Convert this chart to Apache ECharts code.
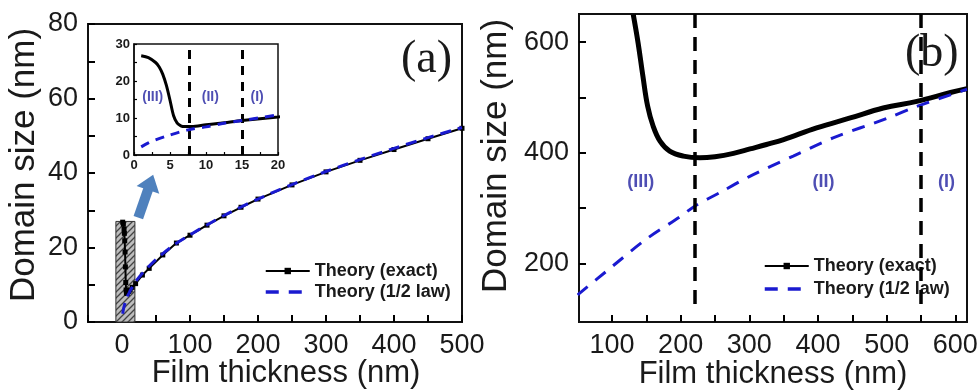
<!DOCTYPE html>
<html><head><meta charset="utf-8">
<script src="https://cdn.jsdelivr.net/npm/echarts@6/dist/echarts.min.js"></script>
<style>html,body{margin:0;padding:0;background:#fff}#c{width:978px;height:390px}</style>
</head><body><div id="c"></div>
<script>
// ---------- Panel (a): film thickness (nm) vs domain size (nm) ----------
const thicknessExactA = [1, 2, 3, 3.5, 4, 4.5, 5, 5.5, 6, 6.5, 7, 8, 10, 12, 15, 20, 30, 40, 60, 80, 100, 125, 150, 175, 200, 250, 300, 350, 400, 450, 500];
const exactA          = [26.8, 26.3, 25.0, 23.8, 21.8, 18.8, 14.8, 10.6, 8.6, 7.9, 7.7, 7.7, 8.2, 8.6, 9.3, 10.3, 12.6, 14.4, 18.0, 21.2, 23.3, 26.0, 28.5, 30.8, 33.0, 36.8, 40.3, 43.4, 46.3, 49.2, 52.0];
const thicknessHalfA  = [1, 2, 3, 5, 7.5, 10, 12.5, 15, 20, 30, 50, 75, 100, 150, 200, 250, 300, 350, 400, 450, 500];
const halfA           = [2.2, 3.3, 4.1, 5.4, 6.8, 7.6, 8.6, 9.3, 10.8, 13.1, 16.8, 20.5, 23.4, 28.6, 33.0, 36.9, 40.4, 43.6, 46.6, 49.5, 52.2];
// ---------- Panel (b) ----------
const thicknessExactB = [131, 138, 145, 152, 160, 170, 184, 204, 228, 250, 277, 301, 325, 350, 398, 447, 495, 544, 593, 617];
const exactB          = [650, 599, 539, 484, 448, 421, 403, 394, 391, 393, 399, 407, 415, 424, 445, 463, 481, 493, 509, 516];
const thicknessHalfB  = [50, 100, 150, 200, 220, 260, 300, 364, 422, 500, 544, 617];
const halfB           = [143, 194, 244, 285, 303, 330, 357, 394, 427, 462, 484, 515];
// region boundaries and labels
const boundariesA = [7.7, 15];
const boundariesB = [220, 550];
const regionNames = ['(III)', '(II)', '(I)'];
const seriesNames = ['Theory (exact)', 'Theory (1/2 law)'];
// ticks and tick labels
const xTicksA = [-50, 0, 50, 100, 150, 200, 250, 300, 350, 400, 450, 500];
const xLabelsA = [0, 100, 200, 300, 400, 500];
const yTicksA = [0, 10, 20, 30, 40, 50, 60, 70, 80];
const yLabelsA = [0, 20, 40, 60, 80];
const xTicksInset = [0, 2.5, 5, 7.5, 10, 12.5, 15, 17.5, 20];
const xLabelsInset = [0, 5, 10, 15, 20];
const yTicksInset = [0, 5, 10, 15, 20, 25, 30];
const yLabelsInset = [0, 10, 20, 30];
const xTicksB = [100, 150, 200, 250, 300, 350, 400, 450, 500, 550, 600];
const xLabelsB = [100, 200, 300, 400, 500, 600];
const yTicksB = [200, 300, 400, 500, 600];
const yLabelsB = [200, 400, 600];

const zip = (xs, ys) => xs.map((x, i) => [x, ys[i]]);

// hatch pattern for the zoom box
const pc = document.createElement('canvas');
pc.width = 6; pc.height = 6;
const g = pc.getContext('2d');
g.fillStyle = '#bdbdbd'; g.fillRect(0, 0, 6, 6);
g.strokeStyle = '#444'; g.lineWidth = 1.3;
g.beginPath(); g.moveTo(0, 6); g.lineTo(6, 0); g.moveTo(-1, 1); g.lineTo(1, -1); g.moveTo(5, 7); g.lineTo(7, 5); g.stroke();

const FONT = 'Liberation Sans, Arial, sans-serif';
const BLUE = '#1a1ad0';
const LABEL_BLUE = '#2222a0';
const TXT = '#1a1a1a';

function tick(len, w, values) {
  return { show: true, inside: true, length: len, customValues: values, lineStyle: { color: '#000', width: w, opacity: 1 } };
}
function bigLabel(values, margin) {
  return { color: TXT, fontFamily: FONT, fontSize: 27, margin: margin, customValues: values };
}
function smallLabel(values, margin) {
  return { color: TXT, fontFamily: FONT, fontSize: 13, fontWeight: 'bold', margin: margin, customValues: values };
}
function axisBase(extra) {
  return Object.assign({
    type: 'value',
    axisLine: { show: true, onZero: false, lineStyle: { color: '#111', width: 2 } },
    splitLine: { show: false },
    nameMoveOverlap: false,
    nameTextStyle: { color: TXT, fontFamily: FONT, fontSize: 32 }
  }, extra);
}
const thinLine = { show: true, onZero: false, lineStyle: { color: '#111', width: 1.5 } };

const gridBase = { show: true, borderColor: '#111', borderWidth: 2, backgroundColor: 'transparent', containLabel: false, outerBoundsMode: 'none' };

const chart = echarts.init(document.getElementById('c'), null, { renderer: 'canvas' });
chart.setOption({
  animation: false,
  backgroundColor: '#fff',
  grid: [
    Object.assign({}, gridBase, { left: 88, top: 24, width: 374, height: 298 }),
    Object.assign({}, gridBase, { left: 134, top: 44, width: 144, height: 111, borderWidth: 1.5, backgroundColor: '#fff' }),
    Object.assign({}, gridBase, { left: 579, top: 14, width: 388, height: 308 })
  ],
  xAxis: [
    axisBase({ gridIndex: 0, min: -50, max: 500,
      axisTick: tick(7, 2, xTicksA), axisLabel: bigLabel(xLabelsA, 10),
      name: 'Film thickness (nm)', nameLocation: 'middle', nameGap: 36,
      nameTextStyle: { color: TXT, fontFamily: FONT, fontSize: 31, padding: [0, 0, 0, 22] } }),
    axisBase({ gridIndex: 1, min: 0, max: 20, axisLine: thinLine,
      axisTick: tick(3, 1.2, xTicksInset), axisLabel: smallLabel(xLabelsInset, 4) }),
    axisBase({ gridIndex: 2, min: 52, max: 617,
      axisTick: tick(7, 2, xTicksB), axisLabel: bigLabel(xLabelsB, 10),
      name: 'Film thickness (nm)', nameLocation: 'middle', nameGap: 37,
      nameTextStyle: { color: TXT, fontFamily: FONT, fontSize: 31 } })
  ],
  yAxis: [
    axisBase({ gridIndex: 0, min: 0, max: 80,
      axisTick: tick(7, 2, yTicksA), axisLabel: bigLabel(yLabelsA, 10),
      name: 'Domain size (nm)', nameLocation: 'middle', nameGap: 46,
      nameTextStyle: { color: TXT, fontFamily: FONT, fontSize: 35, padding: [0, 0, 0, 16] } }),
    axisBase({ gridIndex: 1, min: 0, max: 30, axisLine: thinLine,
      axisTick: tick(3, 1.2, yTicksInset), axisLabel: smallLabel(yLabelsInset, 4) }),
    axisBase({ gridIndex: 2, min: 94, max: 651,
      axisTick: tick(7, 2, yTicksB), axisLabel: bigLabel(yLabelsB, 10),
      name: 'Domain size (nm)', nameLocation: 'middle', nameGap: 65,
      nameTextStyle: { color: TXT, fontFamily: FONT, fontSize: 35, padding: [0, 0, 0, 24] } })
  ],
  legend: [
    { left: 259, top: 257, orient: 'vertical', itemGap: 3, itemWidth: 44, itemHeight: 8, selectedMode: false,
      textStyle: { fontFamily: FONT, fontSize: 18, fontWeight: 'bold', color: TXT },
      data: [
        { name: seriesNames[0], lineStyle: { width: 2 } },
        { name: seriesNames[1], itemStyle: { opacity: 0 }, lineStyle: { width: 3.5, type: [13, 10] } }
      ] },
    { left: 758, top: 252, orient: 'vertical', itemGap: 5, itemWidth: 44, itemHeight: 8, selectedMode: false,
      textStyle: { fontFamily: FONT, fontSize: 18, fontWeight: 'bold', color: TXT },
      data: [
        { name: seriesNames[0], lineStyle: { width: 2 } },
        { name: seriesNames[1], itemStyle: { opacity: 0 }, lineStyle: { width: 3.5, type: [13, 10] } }
      ] }
  ],
  graphic: [
    { type: 'text', left: 401, top: 37, z: 0, style: { text: '(a)', font: '46px "Liberation Serif", serif', fill: TXT } },
    { type: 'text', left: 905, top: 31, z: 0, style: { text: '(b)', font: '46px "Liberation Serif", serif', fill: TXT } }
  ],
  series: [
    // zoom box and arrow (annotations) in panel (a)
    { type: 'line', name: 'box', xAxisIndex: 0, yAxisIndex: 0, data: [], silent: true, z: 1,
      markArea: { silent: true, itemStyle: { color: { image: pc, repeat: 'repeat' }, borderColor: '#333', borderWidth: 1 },
        data: [[{ coord: [-9, 27] }, { coord: [19, 0] }]] },
      markLine: { silent: true, symbol: ['none', 'triangle'], symbolSize: [24, 16], label: { show: false },
        lineStyle: { color: '#4f81bd', width: 10, type: 'solid' },
        data: [[{ coord: [24, 28] }, { coord: [42, 37.5] }]] } },
    { type: 'line', name: seriesNames[0], xAxisIndex: 0, yAxisIndex: 0, data: zip(thicknessExactA, exactA),
      symbol: 'rect', symbolSize: 5, showSymbol: true, color: '#000', lineStyle: { color: '#000', width: 2 }, z: 3 },
    { type: 'line', name: seriesNames[1], xAxisIndex: 0, yAxisIndex: 0, data: zip(thicknessHalfA, halfA), smooth: 0.3,
      symbol: 'none', showSymbol: false, color: BLUE, lineStyle: { color: BLUE, width: 3, type: [11, 7] }, z: 4 },
    // inset
    { type: 'line', name: seriesNames[0], xAxisIndex: 1, yAxisIndex: 1, data: zip(thicknessExactA, exactA), smooth: 0.3,
      symbol: 'rect', symbolSize: 3, showSymbol: false, color: '#000', lineStyle: { color: '#000', width: 3 }, z: 5,
      markLine: { silent: true, symbol: 'none', label: { show: false }, lineStyle: { color: '#000', width: 3, type: [9, 7] },
        data: boundariesA.map(v => ({ xAxis: v })) } },
    { type: 'line', name: seriesNames[1], xAxisIndex: 1, yAxisIndex: 1, data: zip(thicknessHalfA, halfA), smooth: 0.3,
      symbol: 'none', showSymbol: false, color: BLUE, lineStyle: { color: BLUE, width: 3, type: [9, 7] }, z: 6 },
    { type: 'scatter', name: 'regA', xAxisIndex: 1, yAxisIndex: 1, symbolSize: 0, silent: true, z: 7,
      label: { show: true, position: 'inside', formatter: p => p.name, color: LABEL_BLUE, fontFamily: FONT, fontSize: 14, fontWeight: 'bold' },
      data: [{ name: regionNames[0], value: [2.6, 15.7] }, { name: regionNames[1], value: [10.6, 15.7] }, { name: regionNames[2], value: [17.1, 15.7] }] },
    // panel (b)
    { type: 'line', name: seriesNames[0], xAxisIndex: 2, yAxisIndex: 2, data: zip(thicknessExactB, exactB), smooth: 0.4,
      symbol: 'rect', symbolSize: 4, showSymbol: false, color: '#000', lineStyle: { color: '#000', width: 5 }, z: 3,
      markLine: { silent: true, symbol: 'none', label: { show: false }, lineStyle: { color: '#000', width: 3.5, type: [14, 9] },
        data: boundariesB.map(v => [{ coord: [v, 651] }, { coord: [v, 125] }]) } },
    { type: 'line', name: seriesNames[1], xAxisIndex: 2, yAxisIndex: 2, data: zip(thicknessHalfB, halfB), smooth: 0.3,
      symbol: 'none', showSymbol: false, color: BLUE, lineStyle: { color: BLUE, width: 3, type: [13, 10] }, z: 4 },
    { type: 'scatter', name: 'regB', xAxisIndex: 2, yAxisIndex: 2, symbolSize: 0, silent: true, z: 7,
      label: { show: true, position: 'inside', formatter: p => p.name, color: LABEL_BLUE, fontFamily: FONT, fontSize: 18, fontWeight: 'bold' },
      data: [{ name: regionNames[0], value: [142, 348] }, { name: regionNames[1], value: [408, 348] }, { name: regionNames[2], value: [587, 348] }] }
  ]
});
</script></body></html>
